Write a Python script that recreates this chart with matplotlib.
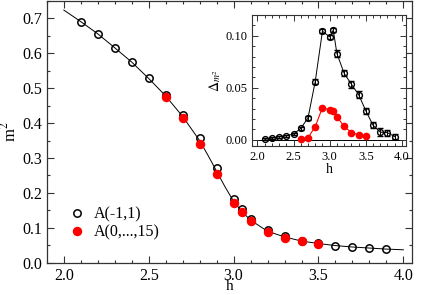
import numpy as np
import matplotlib
matplotlib.use("Agg")
import matplotlib.pyplot as plt
from matplotlib.ticker import MultipleLocator, FormatStrFormatter

plt.rcParams["font.family"] = ["Liberation Serif", "DejaVu Serif"]
plt.rcParams["mathtext.fontset"] = "stix"

# main panel data
h_a = [2.1, 2.2, 2.3, 2.4, 2.5, 2.6, 2.7, 2.8, 2.9, 3.0, 3.05, 3.1,
       3.2, 3.3, 3.4, 3.5, 3.6, 3.7, 3.8, 3.9]
m2_a = [0.691, 0.656, 0.616, 0.575, 0.529, 0.482, 0.424, 0.357, 0.271, 0.182,
        0.155, 0.126, 0.094, 0.077, 0.063, 0.056, 0.049, 0.045, 0.042, 0.039]
h_b = [2.6, 2.7, 2.8, 2.9, 3.0, 3.05, 3.1, 3.2, 3.3, 3.4, 3.5]
m2_b = [0.474, 0.415, 0.341, 0.254, 0.171, 0.144, 0.119, 0.088, 0.072, 0.061, 0.054]

# fit curve
h_fit = [2.0, 2.1, 2.2, 2.3, 2.4, 2.5, 2.6, 2.7, 2.8, 2.85, 2.9, 2.95, 3.0,
         3.05, 3.1, 3.2, 3.3, 3.4, 3.5, 3.6, 3.7, 3.8, 3.9, 4.0]
m2_fit = [0.724, 0.691, 0.656, 0.616, 0.575, 0.528, 0.478, 0.419, 0.350, 0.307,
          0.262, 0.217, 0.176, 0.146, 0.122, 0.090, 0.074, 0.062, 0.055, 0.049,
          0.045, 0.042, 0.039, 0.037]

# inset data
d_a = [0.0006, 0.0016, 0.003, 0.004, 0.0055, 0.011, 0.021, 0.056, 0.1045, 0.099,
       0.1055, 0.083, 0.064, 0.0535, 0.0435, 0.028, 0.014, 0.0074, 0.0068, 0.003]
e_a = [0.0008, 0.0008, 0.0008, 0.001, 0.001, 0.0012, 0.0015, 0.002, 0.002, 0.002,
       0.002, 0.003, 0.003, 0.0035, 0.0035, 0.003, 0.003, 0.0035, 0.003, 0.0025]
d_b = [0.001, 0.002, 0.0126, 0.031, 0.0287, 0.0277, 0.022, 0.013, 0.007, 0.0048, 0.004]

fig = plt.figure(figsize=(4.22, 2.95), dpi=100)
ax = fig.add_axes([0.111, 0.1095, 0.865, 0.887])

ax.plot(h_fit, m2_fit, color="black", lw=0.7, zorder=1)
ax.plot(h_a, m2_a, "o", ms=5.3, mfc="none", mec="black", mew=1.1,
        label="A(-1,1)", zorder=2)
ax.plot(h_b, m2_b, "o", ms=5.8, color="red", mec="red",
        label="A(0,...,15)", zorder=3)

ax.set_xlim(1.9, 4.05)
ax.set_ylim(0.0, 0.75)
ax.xaxis.set_major_locator(MultipleLocator(0.5))
ax.xaxis.set_minor_locator(MultipleLocator(0.1))
ax.yaxis.set_major_locator(MultipleLocator(0.1))
ax.yaxis.set_minor_locator(MultipleLocator(0.05))
ax.xaxis.set_major_formatter(FormatStrFormatter("%.1f"))
ax.yaxis.set_major_formatter(FormatStrFormatter("%.1f"))
ax.tick_params(which="both", direction="in", top=True, right=True,
               labelsize=11.5, width=0.8, colors="#333333", labelcolor="black")
ax.tick_params(which="major", length=5)
ax.tick_params(which="minor", length=2.5)
for s in ax.spines.values():
    s.set_linewidth(0.9)
    s.set_color("#333333")
ax.set_xlabel("h", fontsize=11)
ax.xaxis.set_label_coords(0.5, -0.066)
ax.set_ylabel(r"m$^2$", fontsize=12, labelpad=2)

ax.legend(loc="lower left", bbox_to_anchor=(0.04, 0.06), frameon=False,
          fontsize=11.5, handletextpad=0.4, borderaxespad=0,
          handlelength=1.2, labelspacing=0.15)

# inset
ins = fig.add_axes([0.598, 0.505, 0.363, 0.444])
ins.axhline(0, color="black", lw=0.7, zorder=0)
ins.errorbar(h_a, d_a, yerr=e_a, fmt="o-", color="black", ms=4.2,
             mfc="none", mec="black", mew=1.0, lw=0.7, elinewidth=0.7,
             capsize=2, capthick=0.7)
ins.plot(h_b, d_b, "o-", color="red", ms=4.5, lw=0.8)
ins.set_xlim(1.93, 4.05)
ins.set_ylim(-0.006, 0.12)
ins.xaxis.set_major_locator(MultipleLocator(0.5))
ins.xaxis.set_minor_locator(MultipleLocator(0.1))
ins.yaxis.set_major_locator(MultipleLocator(0.05))
ins.yaxis.set_minor_locator(MultipleLocator(0.01))
ins.xaxis.set_major_formatter(FormatStrFormatter("%.1f"))
ins.yaxis.set_major_formatter(FormatStrFormatter("%.2f"))
ins.tick_params(which="both", direction="in", top=True, right=True,
                labelsize=9, width=0.7, colors="#333333", labelcolor="black")
ins.tick_params(which="major", length=4)
ins.tick_params(which="minor", length=2)
for s in ins.spines.values():
    s.set_linewidth(0.8)
    s.set_color("#333333")
ins.set_xlabel("h", fontsize=10, labelpad=0)
ins.set_ylabel(r"$\Delta_{m^2}$", fontsize=10, labelpad=2)

fig.savefig("out.png", dpi=100)
